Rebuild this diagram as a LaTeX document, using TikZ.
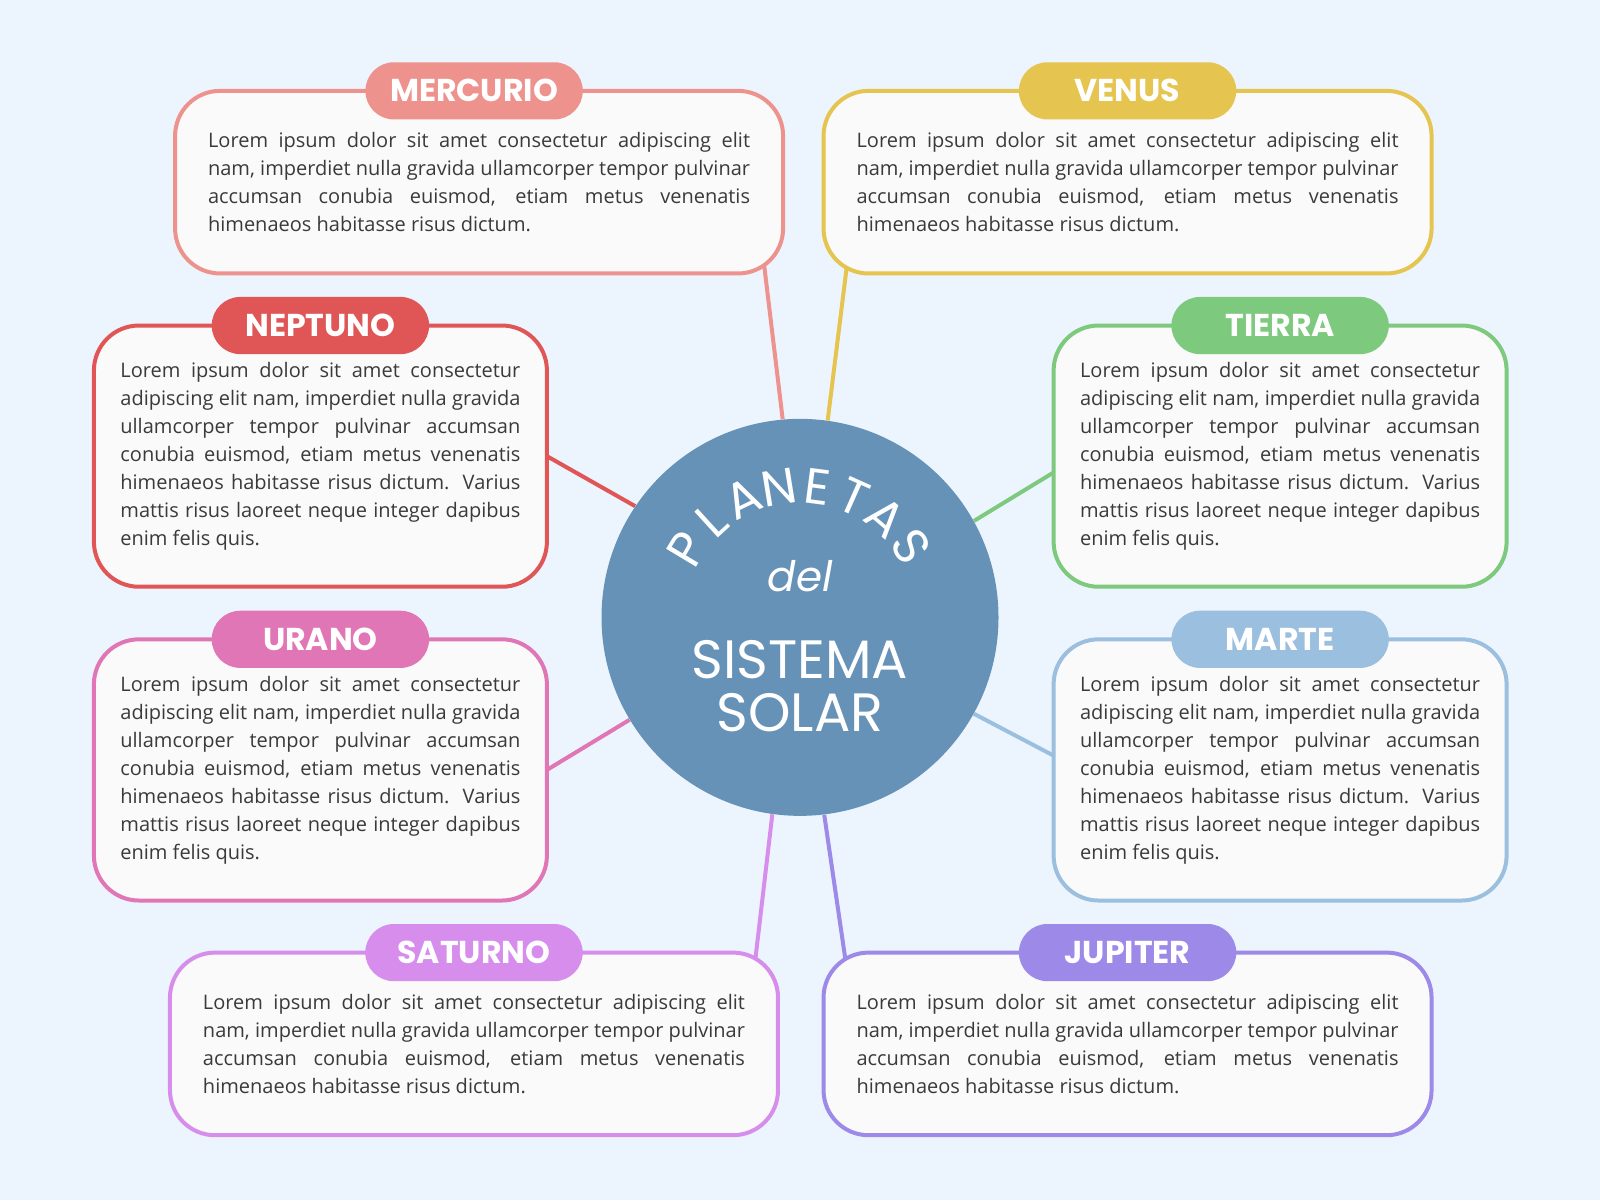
\documentclass[tikz,border=0pt]{standalone}
\usepackage{fontspec}
\setmainfont{Open Sans}
\newfontfamily\headfont{Poppins}
\usetikzlibrary{calc}
\pgfdeclarelayer{bg}
\pgfsetlayers{bg,main}
\definecolor{bgblue}{HTML}{ECF5FE}
\definecolor{sunblue}{HTML}{6792B8}
\definecolor{boxfill}{HTML}{FAFAFA}
\definecolor{txtgray}{HTML}{3A3A3A}
\definecolor{cmerc}{HTML}{EE928D}
\definecolor{cven}{HTML}{E6C450}
\definecolor{cnep}{HTML}{E05656}
\definecolor{ctie}{HTML}{7DC97D}
\definecolor{cura}{HTML}{E076B6}
\definecolor{cmar}{HTML}{9BBFDE}
\definecolor{csat}{HTML}{D68DEC}
\definecolor{cjup}{HTML}{9D89E8}
\tikzset{
	planet/.style={draw=#1,fill=boxfill,line width=2pt,rounded corners=22.5pt,outer sep=0pt,
		inner sep=0pt,align=justify,text=txtgray,font=\fontsize{10}{14}\selectfont},
	wide/.style={minimum width=304pt,minimum height=91.3pt,text width=271pt},
	narrow/.style={minimum width=226.5pt,minimum height=130.6pt,text width=200pt},
	tab/.style={fill=#1,text=white,rounded corners=14.3pt,minimum width=108.7pt,
		minimum height=28.6pt,inner sep=0pt,font=\headfont\bfseries\fontsize{15.8}{15.8}\selectfont},
	link/.style={draw=#1,line width=2pt}
}
\begin{document}
\begin{tikzpicture}[x=0.5102pt,y=-0.5102pt]
				\def\txtw{Lorem ipsum dolor sit amet consectetur adipiscing elit\linebreak
				nam, imperdiet nulla gravida ullamcorper tempor pulvinar\linebreak
				accumsan conubia euismod, etiam metus venenatis\linebreak
				himenaeos habitasse risus dictum.}
				\def\txtn{Lorem ipsum dolor sit amet consectetur\linebreak
				adipiscing elit nam, imperdiet nulla gravida\linebreak
				ullamcorper tempor pulvinar accumsan\linebreak
				conubia euismod, etiam metus venenatis\linebreak
				himenaeos habitasse risus dictum. Varius\linebreak
				mattis risus laoreet neque integer dapibus\linebreak
				enim felis quis.}
				\useasboundingbox (0,0) rectangle (1568,1176);
				\node[circle,fill=sunblue,minimum size=198.5pt,inner sep=0pt] (sun) at (784,605) {};
				\foreach \l [count=\i from 0] in {P,L,A,N,E,T,A,S}{
					\pgfmathsetmacro\a{149-\i*16.6}
					\node[text=white,inner sep=0pt,font=\headfont\fontsize{25}{25}\selectfont,rotate=\a-90]
					at ($(sun.center)+(-\a:129)$) {\l};
				}
				\node[text=white,font=\headfont\itshape\fontsize{21}{21}\selectfont] (del) at (784,565) {del};
				\node[text=white,align=center,font=\headfont\fontsize{27}{26.5}\selectfont] (sist) at (784,672) {SISTEMA\\SOLAR};
				\node[planet=cmerc,wide] (merc) at (469.5,178.5) {\txtw};
				\node[planet=cven,wide] (ven) at (1105,178.5) {\txtw};
				\node[planet=cnep,narrow] (nep) at (314,447) {\txtn};
				\node[planet=ctie,narrow] (tie) at (1254.5,447) {\txtn};
				\node[planet=cura,narrow] (ura) at (314,754.5) {\txtn};
				\node[planet=cmar,narrow] (mar) at (1254.5,754.5) {\txtn};
				\node[planet=csat,wide] (sat) at (464.5,1023) {\txtw};
				\node[planet=cjup,wide] (jup) at (1105,1023) {\txtw};
				\node[tab=cmerc] (mercT) at ([xshift=-2.5pt]merc.north) {MERCURIO};
				\node[tab=cven] (venT) at (ven.north) {VENUS};
				\node[tab=cnep] (nepT) at (nep.north) {NEPTUNO};
				\node[tab=ctie] (tieT) at (tie.north) {TIERRA};
				\node[tab=cura] (uraT) at (ura.north) {URANO};
				\node[tab=cmar] (marT) at (mar.north) {MARTE};
				\node[tab=csat] (satT) at (sat.north) {SATURNO};
				\node[tab=cjup] (jupT) at (jup.north) {JUPITER};
				\begin{pgfonlayer}{bg}
					\fill[bgblue] (0,0) rectangle (1568,1176);
					\draw[link=cmerc] ($(merc.south east)+(-23,-45)$)--(sun.95.6);
					\draw[link=cven] ($(ven.south west)+(27.5,-45)$)--(sun.82.3);
					\draw[link=cnep] (nep.east)--(sun.146.9);
					\draw[link=ctie] ($(tie.west)+(0,16)$)--(sun.29.9);
					\draw[link=cura] (ura.east)--(sun.211.2);
					\draw[link=cmar] ($(mar.west)+(0,-14)$)--(sun.331.5);
					\draw[link=csat] ($(sat.north east)+(-26.7,45)$)--(sun.262.7);
					\draw[link=cjup] ($(jup.north west)+(27,45)$)--(sun.277.6);
				\end{pgfonlayer}
			\end{tikzpicture}
\end{document}
